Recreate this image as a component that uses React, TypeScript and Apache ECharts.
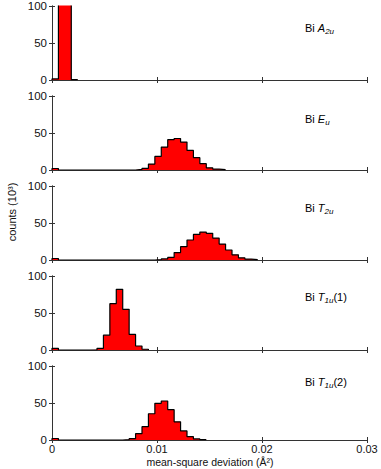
import React, { useEffect, useRef } from "react";
import * as echarts from "echarts";

// histogram bin width (bins start at 0)
const BIN_WIDTH = 0.03 / 49;
const X_TICKS = [0, 0.01, 0.02, 0.03];
const Y_TICKS = [0, 50, 100];

// counts (10^3) per bin, bin k spans [k*BIN_WIDTH, (k+1)*BIN_WIDTH]
const A2U = [1.5, 300, 280, 0.6];
const EU = [2, 0, 0, 0, 0, 0, 0, 0, 0, 0, 0, 0, 0, 0.9, 2.2, 8, 18.4, 31, 41, 42.6, 37.7, 26.5, 16.6, 8.5, 3, 1.3, 0.4];
const T2U = [2, 0, 0, 0, 0, 0, 0, 0, 0, 0, 0, 0, 0, 0, 0, 0, 0.5, 1.5, 3.5, 10, 18, 27, 34.5, 37.7, 36, 29.6, 21.5, 13.5, 7, 3, 1.3, 0.5];
const T1U1 = [2.2, 0, 0, 0, 0, 0, 0.3, 2.2, 20, 62.6, 82, 55, 21, 5.4, 1];
const T1U2 = [2, 0, 0, 0, 0, 0, 0, 0, 0, 0, 0, 0.4, 1.8, 8.6, 18, 35.5, 49.5, 52.7, 41, 24.5, 12.3, 4.5, 1.4, 0.4];

const PANEL_COUNTS = [A2U, EU, T2U, T1U1, T1U2];
const PANEL_LABELS = [
  ["A", "2u", ""],
  ["E", "u", ""],
  ["T", "2u", ""],
  ["T", "1u", "(1)"],
  ["T", "1u", "(2)"],
];

const GRID_TOPS = [6, 96, 186, 276, 366];
const GRID_H = 74;
const LABEL_Y = [30, 121, 210, 299, 384];
const FONT = "'Liberation Sans', Arial, Helvetica, sans-serif";

function stepPoints(counts: number[]) {
  const pts: number[][] = [[0, 0]];
  counts.forEach((c, k) => pts.push([k * BIN_WIDTH, c]));
  pts.push([counts.length * BIN_WIDTH, 0]);
  return pts;
}

export default function App() {
  const ref = useRef<HTMLDivElement>(null);
  useEffect(() => {
    if (!ref.current) return;
    const chart = echarts.init(ref.current, null, { renderer: "svg" });
    const n = PANEL_COUNTS.length;
    const grid: any[] = [];
    const xAxis: any[] = [];
    const yAxis: any[] = [];
    const series: any[] = [];
    const graphic: any[] = [];
    const lineCol = "#333";
    for (let i = 0; i < n; i++) {
      grid.push({ left: 52, width: 315, top: GRID_TOPS[i], height: GRID_H });
      const common = {
        gridIndex: i,
        type: "value",
        min: X_TICKS[0],
        max: X_TICKS[X_TICKS.length - 1],
        interval: X_TICKS[1] - X_TICKS[0],
        splitLine: { show: false },
        axisLine: { show: true, lineStyle: { color: lineCol, width: 1 } },
        axisTick: { show: true, inside: true, length: 3, lineStyle: { color: lineCol } },
      };
      xAxis.push({
        ...common,
        position: "bottom",
        axisLabel: {
          show: i === n - 1,
          color: "#111",
          fontSize: 11,
          fontFamily: FONT,
          margin: 3,
          formatter: (v: number) => (v === 0 ? "0" : String(+v.toFixed(2))),
        },
      });
      xAxis.push({ ...common, position: "top", axisLabel: { show: false } });
      const ycommon = {
        gridIndex: i,
        type: "value",
        min: Y_TICKS[0],
        max: Y_TICKS[Y_TICKS.length - 1],
        interval: Y_TICKS[1] - Y_TICKS[0],
        splitLine: { show: false },
        axisLine: { show: true, lineStyle: { color: lineCol, width: 1 } },
        axisTick: { show: true, inside: true, length: 3, lineStyle: { color: lineCol } },
      };
      yAxis.push({
        ...ycommon,
        position: "left",
        axisLabel: { show: true, color: "#111", fontSize: 11.5, fontFamily: FONT, margin: 5 },
      });
      yAxis.push({ ...ycommon, position: "right", axisLabel: { show: false } });
      series.push({
        type: "line",
        xAxisIndex: i * 2,
        yAxisIndex: i * 2,
        step: "end",
        symbol: "none",
        clip: true,
        data: stepPoints(PANEL_COUNTS[i]),
        lineStyle: { color: "#000", width: 1.2 },
        areaStyle: { color: "#ff0000", opacity: 1 },
      });
      const [sym, sub, suf] = PANEL_LABELS[i];
      graphic.push({
        type: "text",
        left: 305,
        top: LABEL_Y[i] - 8,
        style: {
          text: `{n|Bi }{i|${sym}}{s|${sub}}` + (suf ? `{n|${suf}}` : ""),
          rich: {
            n: { fontSize: 11, fontFamily: FONT, color: "#000", lineHeight: 16, verticalAlign: "middle" },
            i: { fontSize: 11, fontFamily: FONT, fontStyle: "italic", color: "#000", lineHeight: 16, verticalAlign: "middle" },
            s: { fontSize: 8, fontFamily: FONT, fontStyle: "italic", color: "#000", lineHeight: 16, verticalAlign: "bottom" },
          },
        },
      });
    }
    graphic.push({
      type: "text",
      x: 210,
      y: 462,
      style: {
        text: "mean-square deviation (Å²)",
        fontSize: 10.5,
        fontFamily: FONT,
        fill: "#111",
        align: "center",
        verticalAlign: "middle",
      },
    });
    graphic.push({
      type: "text",
      x: 12,
      y: 212,
      rotation: Math.PI / 2,
      style: {
        text: "counts (10³)",
        fontSize: 11,
        fontFamily: FONT,
        fill: "#111",
        align: "center",
        verticalAlign: "middle",
      },
    });
    chart.setOption({
      animation: false,
      backgroundColor: "#fff",
      grid,
      xAxis,
      yAxis,
      series,
      graphic,
    });
    return () => chart.dispose();
  }, []);
  return (
    <div
      ref={ref}
      style={{ position: "fixed", left: 0, top: 0, width: 381, height: 469 }}
    />
  );
}
